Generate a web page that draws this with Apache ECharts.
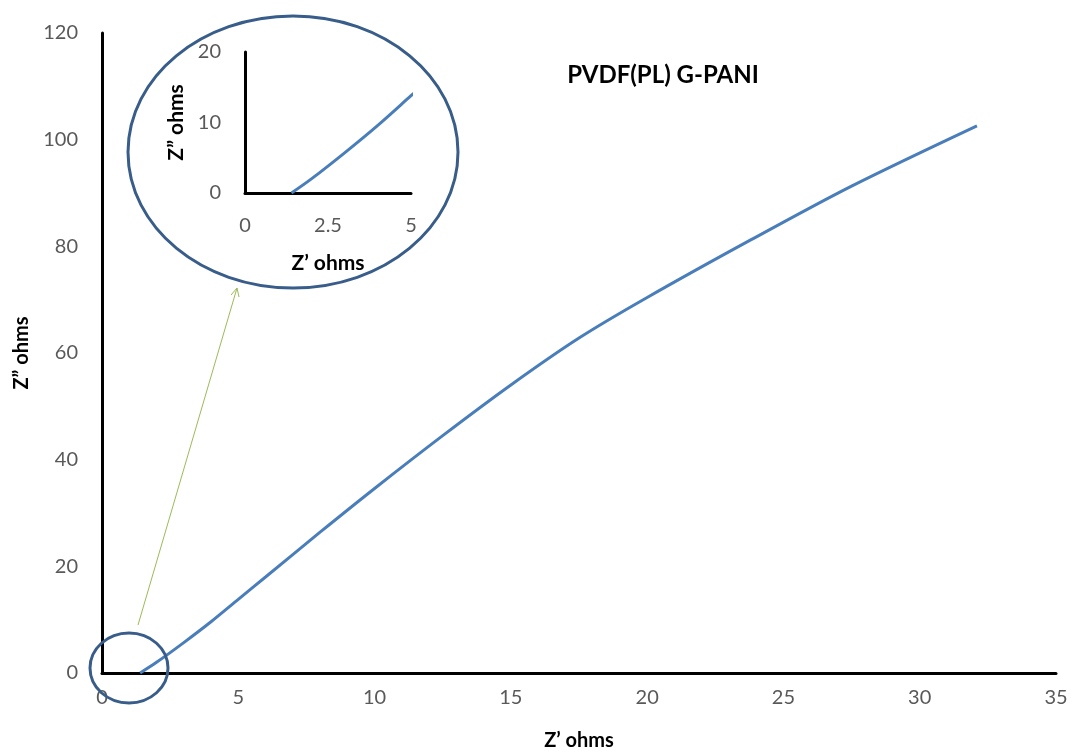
<!DOCTYPE html>
<html>
<head>
<meta charset="utf-8">
<script src="https://cdn.jsdelivr.net/npm/echarts@6/dist/echarts.min.js"></script>
<style>
  html, body { margin: 0; padding: 0; background: #fff; }
  #chart { width: 1076px; height: 756px; }
</style>
</head>
<body>
<div id="chart"></div>
<script>
// 阻抗数据 (Z' / Z'')
const zReal = [1.4, 2, 3, 4, 5, 6, 8, 10, 12.5, 15, 17.5, 20, 23.8, 27.5, 32.1];
const zImag = [0, 2, 5.7, 9.6, 13.8, 18, 26.4, 34.6, 44.5, 54, 62.8, 70.4, 81.2, 91.3, 102.6];
const chartTitle = 'PVDF(PL) G-PANI';
const xName = 'Z\u2019 ohms';
const yName = 'Z\u201D ohms';

const points = zReal.map((x, i) => [x, zImag[i]]);

const fontFamily = 'Lato, "Open Sans", sans-serif';
const labelStyle = { color: '#595959', fontSize: 20, fontFamily };
const nameStyle = { color: '#000', fontSize: 20, fontWeight: 'bold', fontFamily };
const lineBlue = '#4a7ebb';

function axisBase(extra) {
  return Object.assign({
    type: 'value',
    axisLine: { show: true, onZero: false, lineStyle: { color: '#000', width: 3 } },
    axisTick: { show: false },
    splitLine: { show: false },
    axisLabel: labelStyle,
    nameTextStyle: nameStyle
  }, extra);
}

const chart = echarts.init(document.getElementById('chart'));
chart.setOption({
  backgroundColor: '#fff',
  animation: false,
  title: {
    text: chartTitle,
    left: 658, top: 58, textAlign: 'center',
    textStyle: { fontSize: 24, fontWeight: 'bold', color: '#000', fontFamily }
  },
  grid: [
    { left: 102, top: 33, right: 20, bottom: 82 },   // 主图
    { left: 245, top: 52, width: 166, height: 141 }  // 放大图
  ],
  xAxis: [
    axisBase({ gridIndex: 0, min: 0, max: 35, interval: 5, name: xName,
      nameLocation: 'middle', nameGap: 58, axisLabel: Object.assign({ margin: 15 }, labelStyle) }),
    axisBase({ gridIndex: 1, min: 0, max: 5, interval: 2.5, name: xName,
      nameLocation: 'middle', nameGap: 60, nameTextStyle: Object.assign({}, nameStyle, { fontSize: 21 }),
      axisLabel: Object.assign({ margin: 23 }, labelStyle) })
  ],
  yAxis: [
    axisBase({ gridIndex: 0, min: 0, max: 120, interval: 20, name: yName,
      nameLocation: 'middle', nameGap: 70, axisLabel: Object.assign({ margin: 24 }, labelStyle) }),
    axisBase({ gridIndex: 1, min: 0, max: 20, interval: 10, name: yName,
      nameLocation: 'middle', nameGap: 58, nameTextStyle: Object.assign({}, nameStyle, { fontSize: 21 }),
      axisLabel: Object.assign({ margin: 24 }, labelStyle) })
  ],
  series: [
    {
      type: 'line', xAxisIndex: 0, yAxisIndex: 0, data: points,
      smooth: 0.3, showSymbol: false, lineStyle: { color: lineBlue, width: 3 }
    },
    {
      type: 'line', xAxisIndex: 1, yAxisIndex: 1, data: points, clip: true,
      smooth: 0.3, showSymbol: false, lineStyle: { color: lineBlue, width: 3 }
    }
  ],
  graphic: [
    { type: 'ellipse', shape: { cx: 293, cy: 152, rx: 165, ry: 136 },
      style: { fill: 'none', stroke: '#385d8a', lineWidth: 3 } },
    { type: 'ellipse', shape: { cx: 129, cy: 668, rx: 39, ry: 35 },
      style: { fill: 'none', stroke: '#385d8a', lineWidth: 3 }, z: 10 },
    { type: 'line', shape: { x1: 138, y1: 625, x2: 237, y2: 288 },
      style: { stroke: '#9bbb59', lineWidth: 1 } },
    { type: 'polyline', shape: { points: [[231, 295], [237, 288], [239, 297]] },
      style: { stroke: '#9bbb59', lineWidth: 1, fill: 'none' } }
  ]
});
</script>
</body>
</html>
